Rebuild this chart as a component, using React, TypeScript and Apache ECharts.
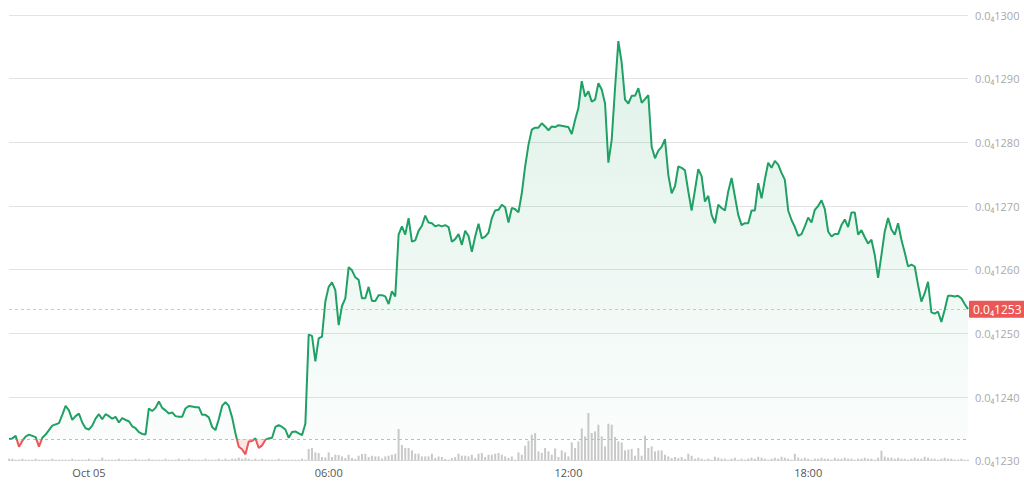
import React, { useEffect, useRef } from "react";
import * as echarts from "echarts";

// Time: minutes relative to Oct 05 00:00, 5-minute candles from Oct 04 22:00
const START_MINUTE = -120;
const STEP_MINUTES = 5;

// Prices in units of 0.0₄ (i.e. 1253 = 0.00001253)
const prices: number[] = [
  1233.4, 1233.5, 1233.9, 1232.2, 1233.1, 1233.8, 1234.1, 1233.9, 1233.7, 1232.2,
  1233.6, 1234.1, 1234.8, 1235.5, 1235.7, 1235.9, 1237.2, 1238.6, 1237.9, 1236.4,
  1237.0, 1237.4, 1236.0, 1235.1, 1234.9, 1235.5, 1236.6, 1237.3, 1236.5, 1237.3,
  1237.0, 1236.6, 1236.9, 1236.0, 1236.7, 1236.4, 1236.2, 1235.4, 1235.1, 1234.5,
  1234.2, 1234.1, 1238.2, 1237.8, 1238.3, 1239.3, 1238.3, 1237.9, 1237.4, 1237.6,
  1237.0, 1236.9, 1236.9, 1238.2, 1238.6, 1238.5, 1238.4, 1238.4, 1237.2, 1237.2,
  1236.8, 1235.3, 1234.8, 1236.5, 1238.6, 1239.2, 1238.6, 1236.8, 1234.3, 1232.2,
  1231.8, 1231.0, 1233.0, 1233.1, 1233.5, 1232.0, 1232.4, 1233.3, 1233.5, 1233.6,
  1235.3, 1235.6, 1235.3, 1234.9, 1233.6, 1234.5, 1234.6, 1234.3, 1234.0, 1235.8,
  1249.8, 1249.6, 1245.6, 1249.2, 1249.5, 1255.0, 1257.3, 1258.0, 1256.8, 1251.3,
  1254.3, 1255.5, 1260.4, 1259.9, 1258.8, 1258.4, 1255.5, 1255.5, 1257.3, 1255.1,
  1255.1, 1256.0, 1256.0, 1255.8, 1254.6, 1256.6, 1255.8, 1265.5, 1266.8, 1265.5,
  1268.1, 1264.4, 1264.6, 1266.1, 1266.9, 1268.5, 1267.4, 1267.3, 1266.8, 1267.0,
  1266.8, 1267.0, 1266.7, 1264.4, 1264.8, 1265.6, 1263.9, 1266.1, 1265.3, 1262.8,
  1265.2, 1267.2, 1264.9, 1265.2, 1265.8, 1268.1, 1269.3, 1269.4, 1270.2, 1269.8,
  1267.4, 1269.7, 1269.5, 1269.0, 1272.0, 1276.2, 1279.6, 1282.0, 1282.3, 1282.3,
  1283.0, 1282.5, 1281.9, 1282.5, 1282.4, 1282.7, 1282.6, 1282.5, 1282.4, 1281.3,
  1283.5, 1285.4, 1289.6, 1287.2, 1288.0, 1286.4, 1286.7, 1289.3, 1288.3, 1286.1,
  1276.8, 1280.4, 1288.5, 1295.9, 1292.5, 1286.7, 1286.1, 1287.3, 1287.3, 1288.5,
  1286.2, 1286.8, 1287.4, 1279.3, 1277.5, 1278.7, 1279.3, 1280.5, 1274.9, 1272.0,
  1273.1, 1276.2, 1276.0, 1275.6, 1272.3, 1269.3, 1272.5, 1275.8, 1274.7, 1270.7,
  1271.6, 1268.6, 1267.3, 1270.2, 1269.7, 1269.3, 1272.3, 1274.4, 1271.5, 1268.6,
  1267.0, 1267.3, 1267.3, 1269.3, 1269.3, 1273.6, 1271.2, 1274.2, 1276.8, 1276.0,
  1277.1, 1276.5, 1275.2, 1274.1, 1269.3, 1267.8, 1266.7, 1265.3, 1265.6, 1266.8,
  1268.2, 1267.4, 1269.4, 1270.0, 1270.9, 1269.5, 1266.0, 1265.2, 1265.6, 1265.6,
  1267.0, 1267.9, 1266.7, 1269.0, 1269.0, 1265.5, 1266.2, 1265.1, 1264.1, 1264.7,
  1262.3, 1258.7, 1262.3, 1266.0, 1268.1, 1266.3, 1265.5, 1267.3, 1264.7, 1262.7,
  1260.5, 1260.8, 1260.5, 1257.6, 1255.0, 1256.3, 1258.1, 1253.3, 1253.1, 1253.4,
  1251.8, 1253.7, 1255.9, 1255.9, 1255.8, 1255.9, 1255.5, 1254.6, 1253.8,
];

// Volume (relative units)
const volumes: number[] = [
  2, 2, 1, 1, 2, 1, 1, 1, 2, 1,
  1, 1, 1, 2, 1, 1, 1, 1, 1, 2,
  1, 1, 1, 1, 2, 1, 1, 1, 3, 1,
  1, 1, 1, 2, 1, 1, 1, 1, 2, 1,
  1, 1, 2, 1, 1, 1, 1, 2, 1, 1,
  1, 2, 1, 1, 2, 1, 1, 1, 1, 2,
  1, 1, 1, 2, 1, 2, 1, 2, 2, 3,
  2, 3, 2, 1, 2, 1, 2, 1, 1, 1,
  1, 2, 1, 1, 1, 1, 1, 1, 2, 1,
  11.7, 12.7, 8.3, 7.7, 3.7, 3.3, 8.3, 3.7, 6, 5.7,
  4.3, 2.7, 6, 2.7, 1.7, 5, 6.7, 7, 3.7, 5,
  4.3, 4.3, 2.3, 4.3, 5, 6, 7, 31.7, 15.7, 12.7,
  12.7, 10.3, 7, 7, 4.3, 4.3, 4.3, 7, 2.7, 4.3,
  3.7, 1.7, 1, 2.7, 3.7, 7, 5, 5, 4.3, 6,
  2.7, 7, 7.7, 3.7, 6, 6, 7, 7.7, 6, 4.3,
  2.7, 4.3, 1, 8.3, 6, 15, 20, 26, 27.7, 9.3,
  7.7, 12.7, 9.3, 6, 12.3, 3.7, 10.3, 8.3, 4.3, 18.3,
  12.7, 19.3, 32.3, 24.3, 47.7, 27.7, 29.3, 36, 24.3, 14.3,
  37, 36, 23.7, 19.3, 18.3, 10.3, 11, 11.7, 5, 12.7,
  5, 25, 12.7, 14.3, 9.3, 10.3, 10.3, 6, 4.3, 2.7,
  3.7, 2.7, 3.7, 1.7, 7, 5, 2, 3, 2, 1,
  2, 1, 4, 3, 2, 2, 1, 2, 3, 1,
  2, 1, 2, 3, 2, 4, 3, 2, 1, 2,
  3, 2, 4, 3, 2, 1, 7, 3, 2, 3,
  2, 1, 2, 2, 3, 2, 2, 1, 3, 2,
  2, 3, 2, 2, 1, 2, 2, 3, 2, 2,
  1, 3, 10, 4, 3, 3, 2, 3, 2, 2,
  1, 2, 3, 2, 2, 4, 3, 2, 2, 1,
  2, 3, 2, 2, 1, 1, 2, 1, 1,
];

const yMin = 1230;
const yMax = 1300;
const yStep = 10;
const xMin = -120;
const xMax = 1320;
const xLabelMinutes = [0, 360, 720, 1080];
const xLabelTexts = ["Oct 05", "06:00", "12:00", "18:00"];
const pricePrefix = "0.0\u2084";

const GREEN = "#1fa064";
const RED = "#eb5757";

export default function App() {
  const ref = useRef<HTMLDivElement>(null);

  useEffect(() => {
    if (!ref.current) return;
    const chart = echarts.init(ref.current, undefined, { renderer: "svg" });

    const times = prices.map((_, i) => START_MINUTE + i * STEP_MINUTES);
    const base = prices[0];
    const last = prices[prices.length - 1];

    const linePts: [number, number][] = times.map((t, i) => [t, prices[i]]);
    // insert crossing points at the baseline for clean area split
    const pts: [number, number][] = [];
    for (let i = 0; i < times.length; i++) {
      pts.push([times[i], prices[i]]);
      if (i < times.length - 1) {
        const a = prices[i] - base;
        const b = prices[i + 1] - base;
        if (a * b < 0) {
          const t = (base - prices[i]) / (prices[i + 1] - prices[i]);
          pts.push([times[i] + t * (times[i + 1] - times[i]), base]);
        }
      }
    }
    const above = pts.map(([x, y]) => [x, Math.max(y, base)]);
    const below = pts.map(([x, y]) => [x, Math.min(y, base)]);
    const volData = times.map((t, i) => [t, volumes[i]]);

    const labelMap: Record<number, string> = {};
    xLabelMinutes.forEach((m, i) => (labelMap[m] = xLabelTexts[i]));

    chart.setOption({
      animation: false,
      textStyle: { fontFamily: "'Open Sans', 'DejaVu Sans', sans-serif" },
      grid: [
        { left: 9, right: 56, top: 15, bottom: 22.3 },
        { left: 9, right: 56, bottom: 22.3, height: 100 },
      ],
      xAxis: [
        {
          type: "value",
          gridIndex: 0,
          min: xMin,
          max: xMax,
          interval: 120,
          axisLine: { show: false },
          axisTick: { show: false },
          splitLine: { show: false },
          axisLabel: {
            color: "#555",
            fontSize: 11,
            margin: 6,
            formatter: (v: number) => labelMap[v] ?? "",
          },
        },
        {
          type: "value",
          gridIndex: 1,
          min: xMin,
          max: xMax,
          show: false,
        },
      ],
      yAxis: [
        {
          type: "value",
          gridIndex: 0,
          position: "right",
          min: yMin,
          max: yMax,
          interval: yStep,
          axisLine: { show: false },
          axisTick: { show: false },
          splitLine: { lineStyle: { color: "#e3e3e3", width: 1 } },
          axisLabel: {
            color: "#a9a9a9",
            fontSize: 11,
            margin: 7,
            formatter: (v: number) => pricePrefix + v,
          },
        },
        {
          type: "value",
          gridIndex: 1,
          min: 0,
          max: 100,
          show: false,
        },
      ],
      visualMap: {
        show: false,
        type: "piecewise",
        seriesIndex: 3,
        dimension: 1,
        pieces: [
          { gt: 1000, lte: base, color: RED },
          { gt: base, lte: 2000, color: GREEN },
        ],
        outOfRange: { color: GREEN },
      },
      series: [
        {
          type: "bar",
          xAxisIndex: 1,
          yAxisIndex: 1,
          data: volData,
          barWidth: 2,
          itemStyle: { color: "#c9c9c9" },
          silent: true,
        },
        {
          type: "line",
          data: above,
          showSymbol: false,
          symbol: "none",
          lineStyle: { width: 0, opacity: 0 },
          areaStyle: {
            origin: base,
            color: new echarts.graphic.LinearGradient(0, 0, 0, 1, [
              { offset: 0, color: "rgba(31,160,100,0.2)" },
              { offset: 1, color: "rgba(31,160,100,0.03)" },
            ]),
          },
          silent: true,
        },
        {
          type: "line",
          data: below,
          showSymbol: false,
          symbol: "none",
          lineStyle: { width: 0, opacity: 0 },
          areaStyle: { origin: base, color: "rgba(235,87,87,0.22)" },
          silent: true,
        },
        {
          type: "line",
          data: linePts,
          showSymbol: false,
          symbol: "none",
          lineStyle: { width: 2 },
          z: 5,
          markLine: {
            silent: true,
            symbol: "none",
            animation: false,
            data: [
              {
                yAxis: base,
                lineStyle: { color: "#bdbdbd", type: [3, 3], width: 1 },
                label: { show: false },
              },
              {
                yAxis: last,
                lineStyle: { color: "#c8c8c8", type: [3, 3], width: 1 },
                label: {
                  show: true,
                  position: "end",
                  distance: 1,
                  formatter: () => pricePrefix + Math.floor(last),
                  color: "#fff",
                  backgroundColor: RED,
                  fontSize: 12,
                  padding: [3, 4, 2, 4],
                  borderRadius: 1,
                },
              },
            ],
          },
        },
      ],
    });

    return () => chart.dispose();
  }, []);

  return (
    <div
      ref={ref}
      style={{ position: "fixed", left: 0, top: 0, width: 1024, height: 483, background: "#fff" }}
    />
  );
}
